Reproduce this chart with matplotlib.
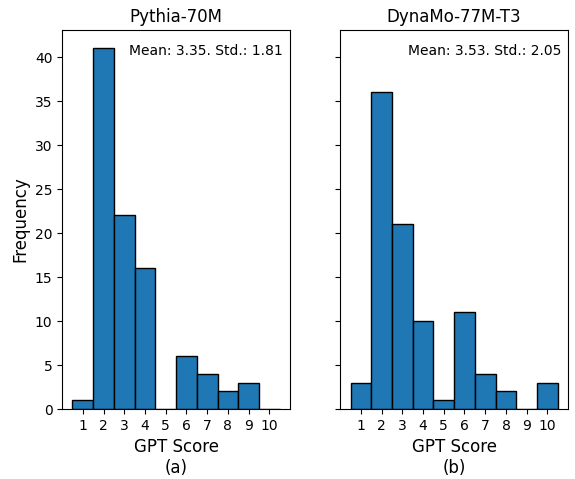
import numpy as np
import matplotlib
matplotlib.use("Agg")
import matplotlib.pyplot as plt

scores = [1, 2, 3, 4, 5, 6, 7, 8, 9, 10]
pythia_counts = [1, 41, 22, 16, 0, 6, 4, 2, 3, 0]
dynamo_counts = [3, 36, 21, 10, 1, 11, 4, 2, 0, 3]
titles = ["Pythia-70M", "DynaMo-77M-T3"]
stats = ["Mean: 3.35. Std.: 1.81", "Mean: 3.53. Std.: 2.05"]
sublabels = ["(a)", "(b)"]

bins = np.arange(0.5, 11.5, 1)

fig, axes = plt.subplots(1, 2, figsize=(5.75, 4.79), dpi=100, sharey=True)
fig.subplots_adjust(left=0.108, right=0.988, top=0.937, bottom=0.146, wspace=0.22)

for ax, counts, title, stat, sub in zip(axes, [pythia_counts, dynamo_counts], titles, stats, sublabels):
    ax.hist(scores, bins=bins, weights=counts, color="#1f77b4", edgecolor="black")
    ax.set_title(title, fontsize=12)
    ax.set_xticks(scores)
    ax.set_xlabel("GPT Score\n" + sub, fontsize=12)
    ax.text(0.97, 0.945, stat, transform=ax.transAxes, ha="right", va="center", fontsize=10)

axes[0].set_ylabel("Frequency", fontsize=12)

fig.savefig("out.png", dpi=100)
